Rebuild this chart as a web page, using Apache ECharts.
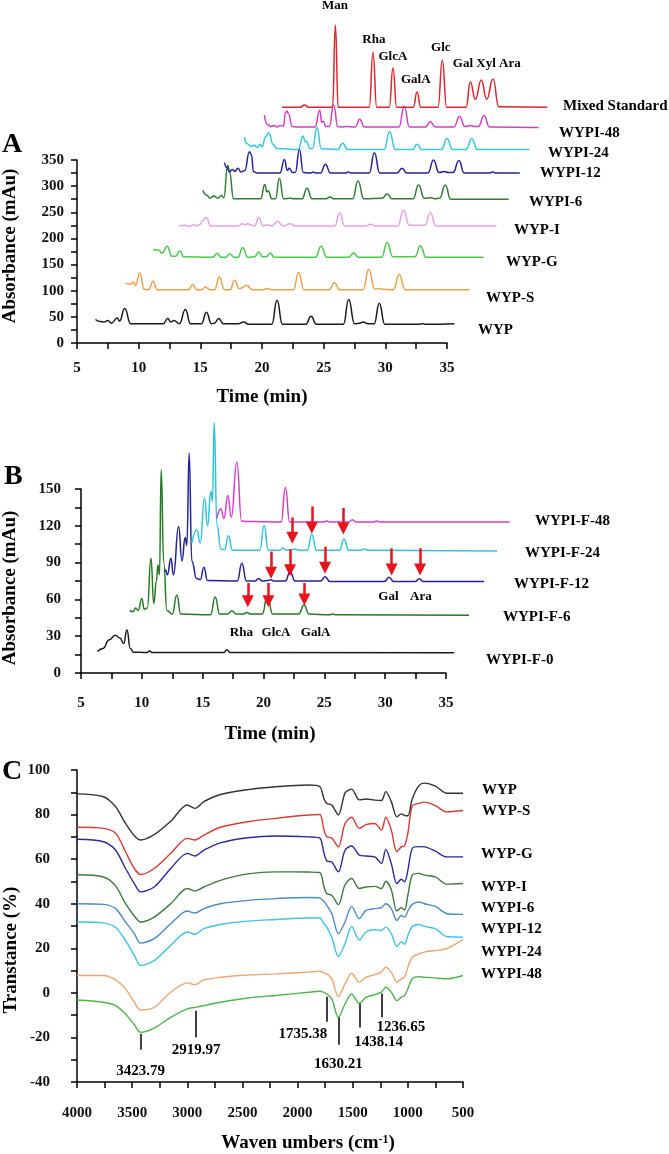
<!DOCTYPE html>
<html><head><meta charset="utf-8">
<script src="https://cdn.jsdelivr.net/npm/echarts@6/dist/echarts.min.js"></script>
<style>html,body{margin:0;padding:0;background:#fff}#c{width:669px;height:1154px}</style>
</head><body><div id="c"></div>
<script>
// ================= PANEL A : HPLC of samples (time min, absorbance mAu) =================
const namesA = ['WYP','WYP-S','WYP-G','WYP-I','WYPI-6','WYPI-12','WYPI-24','WYPI-48','Mixed Standard'];
const A_WYP = [[6.5,45],[6.9,41],[7.2,40],[7.5,43],[7.8,38],[8.26,48],[8.45,42],[8.87,66],[9.35,37],[12.0,37],[12.36,47],[12.6,40],[12.85,43],[13.3,37],[13.79,64],[14.2,37],[15.1,37],[15.49,59],[15.9,37],[16.15,38],[16.49,47],[16.85,37],[18.1,37],[18.52,40],[18.9,36],[20.8,36],[21.22,82],[21.65,36],[23.55,36],[23.98,51],[24.4,36],[26.6,36],[27.03,83],[27.5,37],[27.9,38],[28.2,40],[28.6,37],[29.1,37],[29.51,76],[29.95,36],[32.8,36],[33.0,37],[33.2,36],[35.6,37]];
const A_WYPS = [[8.93,114],[9.3,113],[9.6,116],[9.75,110],[10.09,134],[10.45,103],[10.8,102],[11.17,118],[11.5,102],[14.05,102],[14.38,112],[14.7,102],[15.1,102],[15.41,107],[15.75,102],[16.15,102],[16.55,126],[16.95,102],[17.4,102],[17.79,120],[18.15,104],[18.79,110],[19.2,102],[20.1,102],[20.4,104],[20.8,102],[22.55,102],[22.97,135],[23.4,102],[25.45,102],[25.87,115],[26.3,102],[28.2,102],[28.65,141],[29.15,103],[29.5,104],[29.8,103],[30.65,102],[31.13,131],[31.6,102],[36.83,102]];
const A_WYPG = [[11.17,179],[11.6,178],[11.9,172],[12.31,185],[12.7,166],[13.0,166],[13.33,176],[13.65,165],[16.0,164],[16.36,171],[16.7,164],[17.05,164],[17.4,170],[17.75,164],[18.05,164],[18.44,182],[18.85,164],[19.4,165],[19.73,174],[20.05,165],[20.35,165],[20.67,172],[21.0,164],[24.35,164],[24.79,185],[25.25,164],[27.05,164],[27.43,172],[27.8,164],[29.7,164],[30.14,192],[30.6,165],[32.4,165],[32.84,186],[33.3,164],[37.97,164]];
const A_WYPI = [[13.25,224],[13.8,225],[14.1,223],[14.45,226],[14.7,224],[15.0,227],[15.15,233],[15.49,240],[15.85,224],[18.1,224],[18.4,228],[18.6,226],[18.8,228],[19.4,224],[19.73,240],[20.1,224],[20.4,226],[20.8,224],[21.27,233],[21.7,224],[22.3,228],[22.7,224],[25.9,224],[26.3,249],[26.7,224],[28.4,224],[28.8,227],[29.2,224],[31.0,224],[31.48,254],[31.95,225],[33.2,225],[33.65,249],[34.1,224],[39.0,224]];
const A_WYPI6 = [[15.2,292],[15.5,283],[15.8,277],[16.1,281],[16.4,277],[16.7,282],[16.9,278],[17.22,340],[17.35,330],[17.7,276],[19.9,276],[20.22,303],[20.4,289],[20.5,291],[20.8,276],[21.1,276],[21.41,315],[21.75,276],[22.3,277],[22.6,276],[23.25,276],[23.65,296],[24.05,276],[25.2,276],[25.5,279],[25.8,276],[27.35,276],[27.79,310],[28.25,276],[29.75,277],[30.14,285],[30.55,276],[32.25,276],[32.7,302],[33.15,277],[33.7,278],[34.0,276],[34.4,277],[34.86,302],[35.3,275],[40.0,275]];
const A_WYPI12 = [[16.95,345],[17.15,336],[17.35,327],[17.6,332],[17.8,328],[18.05,334],[18.3,327],[18.6,330],[18.98,366],[19.15,360],[19.3,328],[19.6,325],[21.45,325],[21.82,351],[22.05,330],[22.2,334],[22.5,326],[22.7,326],[23.03,370],[23.35,326],[23.9,325],[24.15,327],[24.4,325],[24.75,325],[25.14,342],[25.55,325],[26.8,325],[27.0,327],[27.2,325],[28.7,325],[29.11,364],[29.55,325],[30.95,325],[31.35,334],[31.75,325],[33.45,325],[33.91,350],[34.35,326],[34.8,328],[35.1,326],[35.5,326],[35.96,349],[36.4,325],[38.4,325],[38.7,327],[39.0,325],[40.9,325]];
const A_WYPI24 = [[18.57,394],[18.8,381],[19.1,376],[19.4,378],[19.6,374],[19.85,380],[20.0,375],[20.3,395],[20.55,402],[20.9,380],[21.2,372],[22.95,370],[23.33,396],[23.5,385],[23.6,386],[23.9,372],[24.1,372],[24.46,412],[24.8,372],[25.1,371],[25.5,371],[26.15,370],[26.54,382],[26.95,370],[29.9,370],[30.35,404],[30.8,370],[32.2,370],[32.57,380],[32.95,370],[34.55,370],[35.0,391],[35.45,370],[36.55,370],[37.0,391],[37.45,370],[41.67,370]];
const A_WYPI48 = [[20.19,436],[20.45,418],[20.7,414],[21.0,416],[21.2,413],[21.5,416],[21.75,415],[21.9,440],[22.03,444],[22.15,438],[22.45,414],[22.8,413],[24.3,413],[24.68,445],[24.85,422],[24.95,424],[25.2,414],[25.45,414],[25.81,455],[26.15,414],[26.5,413],[26.8,414],[27.55,413],[27.92,428],[28.3,413],[31.1,413],[31.54,453],[31.95,413],[33.25,413],[33.65,423],[34.05,413],[35.55,413],[36.02,433],[36.45,414],[36.9,416],[37.2,414],[37.55,414],[38.0,435],[38.45,413],[42.43,412]];
const A_MIX = [[21.63,451],[23.1,451],[23.44,455],[23.8,451],[25.72,451],[25.95,608],[26.18,451],[28.7,451],[29.0,556],[29.3,451],[30.32,451],[30.62,526],[30.92,451],[32.27,451],[32.57,480],[32.87,451],[34.27,451],[34.62,541],[34.97,451],[36.55,451],[36.89,499],[37.3,466],[37.78,503],[38.22,466],[38.73,505],[39.2,452],[43.13,451]];
const seriesA = [A_WYP, A_WYPS, A_WYPG, A_WYPI, A_WYPI6, A_WYPI12, A_WYPI24, A_WYPI48, A_MIX];
const sugarNamesA = ['Man','Rha','GlcA','GalA','Glc','Gal Xyl Ara'];

// ================= PANEL B : HPLC of fractions =================
const namesB = ['WYPI-F-0','WYPI-F-6','WYPI-F-12','WYPI-F-24','WYPI-F-48'];
const B_F0 = [[6.36,17.5],[6.8,20],[7.3,27],[7.82,30.8],[8.2,28.5],[8.5,24],[8.78,35],[9.05,20],[9.3,17],[10.4,16.7],[10.63,18],[10.85,16.7],[16.75,16.7],[16.98,19],[17.25,16.7],[35.67,16.5]];
const B_F6 = [[8.99,50.7],[9.3,50],[9.5,53],[9.7,51],[10.0,60.8],[10.2,52],[10.45,53],[10.75,93.5],[10.98,56.7],[11.2,75],[11.32,88],[11.45,80],[11.59,165.8],[11.8,90],[12.06,51],[12.5,48],[12.88,63.5],[13.2,48],[15.65,47.5],[16.03,62],[16.4,48],[17.05,48],[17.4,50.7],[17.75,48],[18.3,48],[18.63,49.3],[18.95,48],[19.9,48],[20.32,63],[20.75,48],[22.9,48],[23.33,55.4],[23.75,48],[25.4,47.5],[25.7,48],[26.0,47.5],[36.9,47]];
const B_F12 = [[11.84,82.6],[11.95,84],[12.1,80],[12.39,93.5],[12.6,80],[13.02,119.4],[13.3,91.3],[13.56,110.4],[13.7,104],[13.89,179.4],[14.11,91],[14.5,77],[14.8,76],[15.1,86.2],[15.4,75.5],[17.85,75],[18.22,89.5],[18.6,75],[19.3,75],[19.6,77],[19.9,75],[20.35,75.5],[20.6,76],[20.85,75],[21.8,75],[22.18,82.6],[22.6,75],[24.7,75],[25.06,78.5],[25.45,74.5],[29.95,74.5],[30.31,78],[30.7,74.5],[32.45,74.5],[32.8,76.8],[33.15,74.5],[38.13,74.5]];
const B_F24 = [[14.11,105.8],[14.52,116.7],[14.8,106],[15.15,142.6],[15.4,120],[15.67,148],[15.8,140],[15.95,204],[16.17,120.8],[16.5,101],[16.8,100.5],[17.12,111.8],[17.45,100],[19.7,100],[20.05,120.2],[20.4,100],[21.3,100],[21.6,102],[21.9,100],[22.3,100.5],[22.6,101],[22.9,100],[23.6,100],[23.97,113.2],[24.35,100],[26.25,100],[26.62,109.3],[27.0,100],[28.0,100],[28.3,101],[28.6,100],[39.2,99.5]];
const B_F48 = [[16.17,126.3],[16.49,133.9],[16.75,126],[17.07,144.8],[17.35,127],[17.81,172],[18.2,124],[18.6,123.5],[19.0,123.5],[21.45,123],[21.8,151.3],[22.15,123],[24.9,123],[25.2,124],[25.5,123],[27.0,123],[27.3,125],[27.6,123],[29.0,123],[29.3,124],[29.6,123],[40.23,123]];
const seriesB = [B_F0, B_F6, B_F12, B_F24, B_F48];
// arrows: [time, start value, end value], grouped by trace index in seriesB
const arrowsB = {
  1: [[18.71,73.4,58.5],[20.4,73.4,58.5],[23.36,73.4,60]],
  2: [[20.62,99,81.7],[22.18,100.9,83.8],[25.06,103,85.8],[30.53,101.7,84.4],[32.87,101.7,84.4]],
  3: [[22.37,126.8,110.3],[23.97,135.8,118.5],[26.56,134.5,117.7]]
};
const sugarNamesB = ['Rha','GlcA','GalA','Gal','Ara'];

// ================= PANEL C : FT-IR =================
const namesC = ['WYP','WYP-S','WYP-G','WYP-I','WYPI-6','WYPI-12','WYPI-24','WYPI-48'];
const wavenumbers = [4000,3760,3650,3560,3480,3424,3300,3150,3000,2930,2850,2700,2450,2200,1900,1800,1760,1735,1690,1630,1570,1510,1440,1380,1300,1240,1200,1150,1100,1060,1030,1000,960,900,850,750,650,500];
const C_WYP    = [89.3,88,83.5,76,70.5,68.6,71,77,84.3,82.8,85.8,89,91.2,92.5,93.3,92.6,87,85,84.3,79.8,89.6,91.4,86.6,87,86.5,86.3,90.3,85.8,79,80.3,79.6,79.5,87,93,94.1,92.8,89.6,89.6];
const C_WYPS   = [74.3,73.8,71.6,63.3,55.8,53.1,55.8,62.6,69.3,68.6,70.8,74.3,76.8,78.3,79.8,80,73,70,69.5,65.5,76,78.8,73.8,75.5,76,73,78.8,73,63.3,65.5,66,71.6,83.8,85,85.6,84,81.2,81.8];
const C_WYPG   = [68.9,67.8,64,55.8,49,45.3,47.5,55.8,62.6,61.4,64,67.3,69.6,70.4,70,69.5,62.6,59.2,58.7,54.3,64,65.9,61.8,61.4,61,58,64.4,58,49,51,49.8,55,64.8,65.6,65.5,63.6,61,61];
const C_WYPI   = [53,52,48,40,34.5,31.8,34,40,46.8,45.7,47.5,50.5,53.4,54.3,54.2,54,47.5,44.5,43.8,39.6,48.5,51.3,46.8,47.5,47.8,46.8,50.1,46.3,36.7,38.2,37.2,43.8,52.8,53.6,52.8,52,48.8,49.1];
const C_WYPI6  = [40,39.7,37.8,31.8,26.6,22.3,24.3,31,36.7,35.8,37.8,40,41.5,42.3,42.8,42.6,41,39.3,35.6,26.6,31.8,38.8,33.3,37,37.8,38.2,40,37.8,32.5,34.7,34,36.7,39.7,40.8,40,38.8,35.6,35.2];
const C_WYPI12 = [31.8,31.4,29.3,23.5,16.8,12.3,14.5,21.3,27.3,26.3,28.8,30.7,32.2,32.9,33.6,33.6,31,29.5,25,16.3,22,29.8,23.8,27.3,28.3,28,29.5,26.6,20.8,22.8,21.8,25.8,29.8,30.7,29.8,28.8,25.3,25];
const C_WYPI24 = [7.8,7.8,5.8,1.8,-4.2,-7.7,-6.5,0.3,4.5,3.6,5.8,7,8,8.5,9.3,9.7,9,8.5,6.3,-1.7,4,8.8,4.8,7,8.2,9.3,11.5,9.3,4.8,6.3,7,11.5,16,17.5,18.3,19,19.8,23.9];
const C_WYPI48 = [-3.2,-4.2,-5.7,-9.5,-14.3,-17.7,-15.8,-11,-7.2,-6.5,-5.7,-4.2,-2.3,-1.2,0.3,0.7,0.2,-0.5,-2.7,-11,-5,-0.5,-4.7,-2,-0.8,0.3,2.5,0.3,-3.5,-2,-1.2,1.8,6.3,7.3,7,6.7,6.3,7.8];
const seriesC = [C_WYP, C_WYPS, C_WYPG, C_WYPI, C_WYPI6, C_WYPI12, C_WYPI24, C_WYPI48];
// band annotations: [wavenumber, line start value, line end value, label value]
const bandsC = [[3423.79,-18.5,-25.5,-35],[2919.97,-8,-20,-25.5],[1735.38,-1.7,-13,-18.3],[1630.21,-11,-23.3,-31.8],[1438.14,-4.8,-15.6,-22],[1236.65,-0.3,-11,-15.6]];

// ================= LAYOUT / STYLE (not data) =================
const FONT = '"Liberation Serif","Times New Roman",serif';
const colorsA = ['#1a1a1a','#f0a04b','#4ec94e','#e6a3e3','#2e7d32','#23239a','#32c8e0','#d63ec7','#e0242b'];
const colorsB = ['#1a1a1a','#267a26','#22229a','#2ec4dc','#d63ec7'];
const colorsC = ['#333333','#d93a34','#2a2a9c','#3d7a3d','#4a8ac6','#3cc3e6','#f0a56e','#4cb64c'];
const sugarPosA = [[25.91,646],[29.07,581],[30.61,547],[32.47,503],[34.5,564],[38.22,535]];
const sugarPosB = [[18.18,33.3],[21.03,33.3],[24.28,33.3],[30.27,62],[32.94,62]];
const bandLabelDx = [0,0,-24,0,19,19];
const labelPosA = [[478,330],[486,298],[506,262],[514,230],[529,202],[540,173],[548,153],[559,133],[563,106]];
const labelPosB = [[486,660],[503,617],[514,584],[525,553],[535,521]];
const labelPosC = [[482,790],[482,811],[481,854],[481,887],[481,908],[481,929],[481,952],[481,974]];

function axisBase(extra){
  return Object.assign({
    axisLine:{show:true,onZero:false,lineStyle:{color:'#000',width:1.5}},
    axisTick:{show:true,inside:false,length:6,lineStyle:{color:'#000',width:1.5}},
    minorTick:{show:true,splitNumber:2,length:6,lineStyle:{color:'#000',width:1.5}},
    splitLine:{show:false}
  }, extra);
}
function lbl(m){return {color:'#111',fontFamily:FONT,fontWeight:'bold',fontSize:15,margin:m,formatter:v=>String(v)};}
function hidden(extra){return Object.assign({type:'value',show:false,splitLine:{show:false}},extra);}

const series = [];
// data grids 3 (panel A) and 4 (panel B) share the visible axes' scales but extend further
function chrom(data,color,idx){
  return {type:'line',xAxisIndex:idx,yAxisIndex:idx,data:data,symbol:'none',smooth:0.5,smoothMonotone:'x',
    clip:false,silent:true,lineStyle:{color:color,width:1.5},z:3};
}
seriesA.forEach((d,i)=>series.push(chrom(d,colorsA[i],3)));
seriesB.forEach((d,i)=>{
  const s = chrom(d,colorsB[i],4);
  if(arrowsB[i]){
    s.markLine = {silent:true,symbol:['none','triangle'],symbolSize:12,animation:false,
      label:{show:false},lineStyle:{color:'#e8141b',width:2.5,type:'solid'},itemStyle:{color:'#e8141b'},
      emphasis:{disabled:true},
      data: arrowsB[i].map(a=>[{coord:[a[0],a[1]]},{coord:[a[0],a[2]]}])};
  }
  series.push(s);
});
seriesC.forEach((vals,i)=>{
  const s = {type:'line',xAxisIndex:2,yAxisIndex:2,data:wavenumbers.map((w,k)=>[w,vals[k]]),symbol:'none',
    smooth:0.3,clip:false,silent:true,lineStyle:{color:colorsC[i],width:1.4},z:3};
  if(i===7){
    s.markLine = {silent:true,symbol:['none','none'],animation:false,label:{show:false},
      lineStyle:{color:'#000',width:1.5,type:'solid'},emphasis:{disabled:true},
      data: bandsC.map(b=>[{coord:[b[0],b[1]]},{coord:[b[0],b[2]]}])};
  }
  series.push(s);
});
// text labels tied to data coordinates
function textScatter(idx,items,size){
  return {type:'scatter',xAxisIndex:idx,yAxisIndex:idx,symbolSize:0,clip:false,silent:true,z:5,
    itemStyle:{opacity:1},
    data:items,label:{show:true,position:'inside',formatter:p=>p.name,color:'#000',fontFamily:FONT,fontWeight:'bold',fontSize:size}};
}
series.push(textScatter(3,sugarNamesA.map((n,i)=>({name:n,value:sugarPosA[i]})),13));
series.push(textScatter(4,sugarNamesB.map((n,i)=>({name:n,value:sugarPosB[i]})),13));
series.push(textScatter(2,bandsC.map((b,i)=>({name:b[0].toFixed(2),value:[b[0],b[3]],label:{offset:[bandLabelDx[i],0]}})),15));

const graphic = [];
function txt(x,y,text,size){
  graphic.push({type:'text',x:x,y:y,silent:true,z:10,
    style:{text:text,font:'bold '+size+'px '+FONT,fill:'#000',textAlign:'left',textVerticalAlign:'middle',align:'left',verticalAlign:'middle'}});
}
namesA.forEach((n,i)=>txt(labelPosA[i][0],labelPosA[i][1],n,15));
namesB.forEach((n,i)=>txt(labelPosB[i][0],labelPosB[i][1],n,15));
namesC.forEach((n,i)=>txt(labelPosC[i][0],labelPosC[i][1],n,15));
// panel letters
txt(2,145,'A',28); txt(4,477,'B',28); txt(2,772,'C',28);
// axis titles
function ctxt(x,y,text,size,rot){
  graphic.push({type:'text',x:x,y:y,rotation:rot||0,silent:true,z:10,
    style:{text:text,font:'bold '+size+'px '+FONT,fill:'#000',textAlign:'center',textVerticalAlign:'middle',align:'center',verticalAlign:'middle'}});
}
ctxt(10,246,'Absorbance (mAu)',19,Math.PI/2);
ctxt(10,588,'Absorbance (mAu)',19,Math.PI/2);
ctxt(11,950,'Transtance (%)',19,Math.PI/2);
ctxt(262,397,'Time (min)',19);
ctxt(270,734,'Time (min)',19);
graphic.push({type:'text',x:308,y:1143,silent:true,z:10,
  style:{text:'{a|Waven umbers (cm}{s|-1}{a|)}',textAlign:'center',textVerticalAlign:'middle',align:'center',verticalAlign:'middle',
    rich:{a:{font:'bold 19px '+FONT,fill:'#000',verticalAlign:'bottom'},s:{font:'bold 12px '+FONT,fill:'#000',verticalAlign:'top'}}}});

const option = {
  animation:false,
  backgroundColor:'#fff',
  grid:[
    {left:77,top:160,width:370,height:183},
    {left:81,top:489,width:365,height:184},
    {left:77,top:770,width:386,height:312},
    {left:77,top:3.14,width:493.33,height:339.86},
    {left:81,top:366.33,width:486.67,height:306.67}
  ],
  xAxis:[
    axisBase({type:'value',gridIndex:0,min:5,max:35,interval:5,axisLabel:lbl(18)}),
    axisBase({type:'value',gridIndex:1,min:5,max:35,interval:5,axisLabel:lbl(23)}),
    axisBase({type:'value',gridIndex:2,min:500,max:4000,interval:500,inverse:true,axisLabel:lbl(24)}),
    hidden({gridIndex:3,min:5,max:45}),
    hidden({gridIndex:4,min:5,max:45})
  ],
  yAxis:[
    axisBase({type:'value',gridIndex:0,min:0,max:350,interval:50,axisLabel:lbl(13)}),
    axisBase({type:'value',gridIndex:1,min:0,max:150,interval:30,axisLabel:lbl(20)}),
    axisBase({type:'value',gridIndex:2,min:-40,max:100,interval:20,axisLabel:lbl(27)}),
    hidden({gridIndex:3,min:0,max:650}),
    hidden({gridIndex:4,min:0,max:250})
  ],
  series:series,
  graphic:graphic
};
const chart = echarts.init(document.getElementById('c'),null,{renderer:'canvas'});
chart.setOption(option);
</script></body></html>
